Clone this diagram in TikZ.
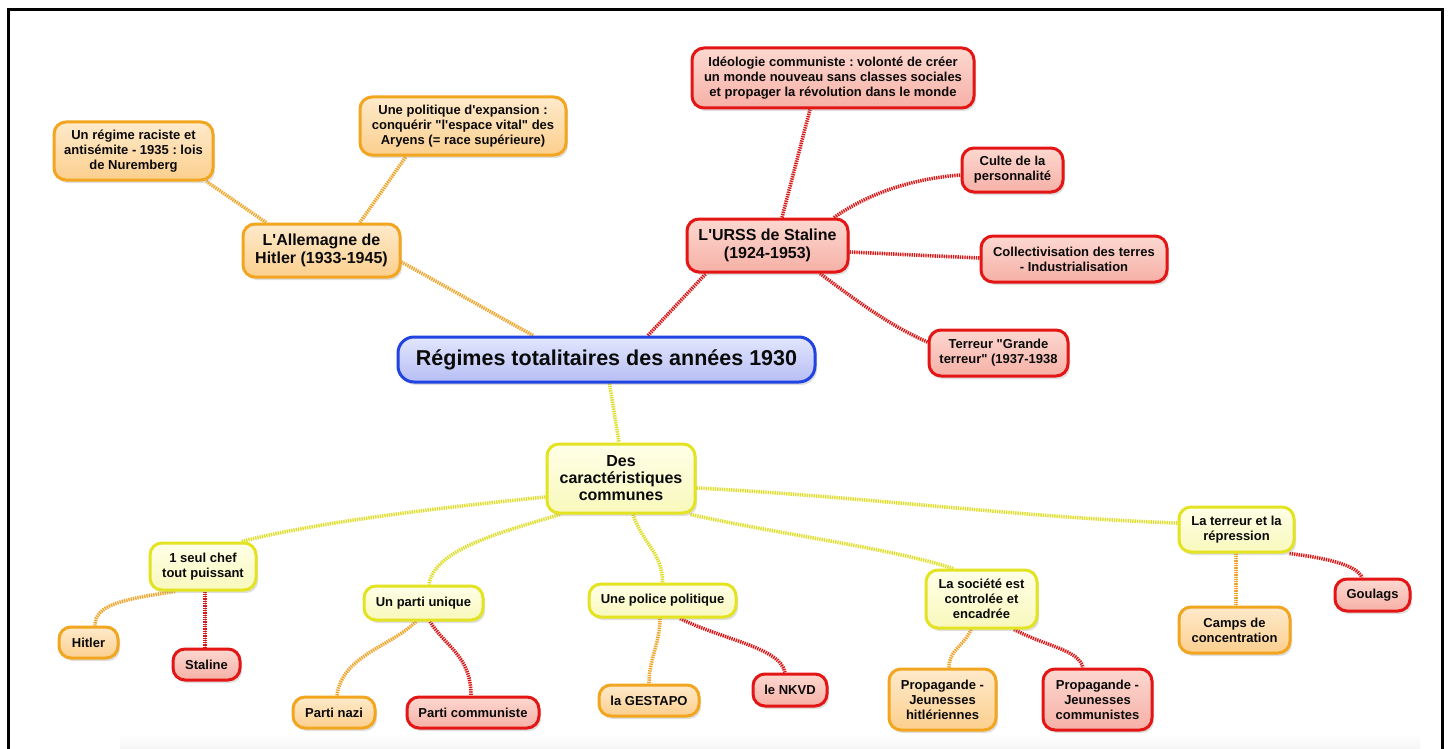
\documentclass[tikz,border=0pt]{standalone}
\usepackage{fontspec}
\setmainfont{Liberation Sans}[Ligatures=TeXOff]
\frenchspacing
\usetikzlibrary{shadows,backgrounds}
\definecolor{txt}{HTML}{0A0A0A}
\definecolor{oB}{HTML}{F2A51E}
\definecolor{oT}{HTML}{FEEACB}
\definecolor{oF}{HTML}{FCCF8E}
\definecolor{rB}{HTML}{E31515}
\definecolor{rT}{HTML}{FCD8D0}
\definecolor{rF}{HTML}{F6B0A6}
\definecolor{yB}{HTML}{E3E322}
\definecolor{yT}{HTML}{FFFFE8}
\definecolor{yF}{HTML}{F8F8BC}
\definecolor{bB}{HTML}{2143E0}
\definecolor{bT}{HTML}{E2E6FD}
\definecolor{bF}{HTML}{B6BEF4}
\definecolor{oD}{HTML}{EFA52A}
\definecolor{oL}{HTML}{F8D590}
\definecolor{rD}{HTML}{D81818}
\definecolor{rL}{HTML}{F09090}
\definecolor{yD}{HTML}{DEDE2A}
\definecolor{yL}{HTML}{F4F4A6}
\begin{document}
\begin{tikzpicture}[x=1pt,y=-1pt,
  mmbox/.style={rounded corners=12pt, line width=3pt, align=center, inner sep=1pt,
    text=txt, font=\bfseries\fontsize{13}{15}\selectfont,
    drop shadow={opacity=0.25, shadow xshift=2pt, shadow yshift=-3pt}},
  onode/.style={mmbox, draw=oB, top color=oT, bottom color=oF},
  rnode/.style={mmbox, draw=rB, top color=rT, bottom color=rF},
  ynode/.style={mmbox, draw=yB, top color=yT, bottom color=yF},
  bnode/.style={mmbox, draw=bB, top color=bT, bottom color=bF, rounded corners=16pt},
  sz/.style 2 args={minimum width=#1pt, minimum height=#2pt},
  midfont/.style={font=\bfseries\fontsize{16}{18}\selectfont},
  bigfont/.style={font=\bfseries\fontsize{21.5}{24}\selectfont},
  olink/.style={line width=3.6pt, draw=oD, dash pattern=on 1.3pt off 1pt, preaction={draw=oL, solid}},
  rlink/.style={line width=3.6pt, draw=rD, dash pattern=on 1.3pt off 1pt, preaction={draw=rL, solid}},
  ylink/.style={line width=3.6pt, draw=yD, dash pattern=on 1.3pt off 1pt, preaction={draw=yL, solid}},
  frame/.style={line width=3pt, draw=black}
]
\useasboundingbox (0,0) rectangle (1450,749);

% central
\node[bnode, sz={417}{45}, bigfont] (central) at (606.5,359.5) {Régimes totalitaires des années 1930};

% Germany branch
\node[onode, sz={157}{53}, midfont] (hitler) at (321.5,250.5) {L'Allemagne de\\Hitler (1933-1945)};
\node[onode, sz={159}{58}] (racist) at (133.5,151) {Un régime raciste et\\antisémite - 1935 : lois\\de Nuremberg};
\node[onode, sz={206}{58}] (expan) at (463,126) {Une politique d'expansion :\\conquérir "l'espace vital" des\\Aryens (= race supérieure)};

% USSR branch
\node[rnode, sz={161}{53}, midfont] (urss) at (767.5,245.5) {L'URSS de Staline\\(1924-1953)};
\node[rnode, sz={282}{60}] (ideo) at (833,78) {Idéologie communiste : volonté de créer\\un monde nouveau sans classes sociales\\et propager la révolution dans le monde};
\node[rnode, sz={101}{44}] (culte) at (1012.5,170) {Culte de la\\personnalité};
\node[rnode, sz={186}{46}] (collec) at (1074,259) {Collectivisation des terres\\- Industrialisation};
\node[rnode, sz={139}{46}] (terreur) at (998.5,353) {Terreur "Grande\\terreur" (1937-1938};

% common characteristics
\node[ynode, sz={148}{69}, font=\bfseries\fontsize{16}{17}\selectfont] (des) at (621,478.5) {Des\\caractéristiques\\communes};
\node[ynode, sz={106}{47}] (chef) at (203,566.5) {1 seul chef\\tout puissant};
\node[onode, sz={59}{31}] (hitler2) at (88.5,642.5) {Hitler};
\node[rnode, sz={67}{31}] (staline) at (206.5,664.5) {Staline};
\node[ynode, sz={119}{34}] (parti) at (423.5,603) {Un parti unique};
\node[onode, sz={82}{31}] (nazi) at (334,712.5) {Parti nazi};
\node[rnode, sz={132}{31}] (comm) at (473,712.5) {Parti communiste};
\node[ynode, sz={147}{33}] (police) at (662.5,600.5) {Une police politique};
\node[onode, sz={100}{31}] (gestapo) at (649,700.5) {la GESTAPO};
\node[rnode, sz={74}{32}] (nkvd) at (790,690) {le NKVD};
\node[ynode, sz={111}{58}] (societe) at (981.5,599) {La société est\\controlée et\\encadrée};
\node[onode, sz={107}{61}] (prophit) at (942.5,699.5) {Propagande -\\Jeunesses\\hitlériennes};
\node[rnode, sz={109}{61}] (propcom) at (1097.5,699.5) {Propagande -\\Jeunesses\\communistes};
\node[ynode, sz={115}{45}] (terrep) at (1236.5,529.5) {La terreur et la\\répression};
\node[onode, sz={111}{46}] (camps) at (1234.5,630) {Camps de\\concentration};
\node[rnode, sz={75}{32}] (goulags) at (1372.5,595) {Goulags};

\begin{scope}[on background layer]
\fill[white] (0,0) rectangle (1450,749);
\shade[top color=white, bottom color=black!4] (120,734) rectangle (1420,749);
\draw[frame] (8.5,749) -- (8.5,9.5) -- (1442.5,9.5) -- (1442.5,749);
% Germany
\draw[olink] ([xshift=-73.5pt]central.north) -- ([yshift=-11.5pt]hitler.east);
\draw[olink] ([xshift=-55.5pt]hitler.north) -- ([xshift=-8pt]racist.south east);
\draw[olink] ([xshift=38.5pt]hitler.north) -- ([xshift=-57pt]expan.south);
% USSR
\draw[rlink] ([xshift=41.5pt]central.north) -- ([xshift=-61.5pt]urss.south);
\draw[rlink] ([xshift=14.5pt]urss.north) -- ([xshift=-23pt]ideo.south);
\draw[rlink] ([xshift=66.5pt]urss.north) .. controls +(40,-28) and +(-40,3) .. ([yshift=-5pt]culte.west);
\draw[rlink] ([yshift=-6.5pt]urss.east) -- ([yshift=1pt]collec.west);
\draw[rlink] ([xshift=52.5pt]urss.south) .. controls +(40,30) and +(-35,-15) .. ([yshift=11pt]terreur.west);
% common
\draw[ylink] ([xshift=3pt]central.south) -- ([xshift=-2pt]des.north);
\draw[ylink] ([yshift=-18.5pt]des.west) .. controls +(-120,12) and +(70,-18) .. ([xshift=-16pt]chef.north east);
\draw[ylink] ([xshift=-61pt]des.south) .. controls +(-60,18) and +(5,-35) .. ([xshift=5.5pt]parti.north);
\draw[ylink] ([xshift=12pt]des.south) .. controls +(10,30) and +(0,-30) .. (police.north);
\draw[ylink] ([xshift=-6pt]des.south east) .. controls +(90,20) and +(-60,-20) .. ([xshift=-28.5pt]societe.north);
\draw[ylink] ([yshift=-9.5pt]des.east) .. controls +(160,8) and +(-150,-5) .. ([yshift=6.5pt]terrep.west);
% sub-branches
\draw[olink] ([xshift=-28pt]chef.south) .. controls +(-55,8) and +(0,-20) .. ([xshift=6.5pt]hitler2.north);
\draw[rlink] ([xshift=2pt]chef.south) -- ([xshift=-1.5pt]staline.north);
\draw[olink] ([xshift=-7.5pt]parti.south) .. controls +(-25,25) and +(5,-40) .. ([xshift=3pt]nazi.north);
\draw[rlink] ([xshift=6.5pt]parti.south) .. controls +(15,25) and +(0,-40) .. ([xshift=-2pt]comm.north);
\draw[olink] ([xshift=-2.5pt]police.south) .. controls +(0,25) and +(0,-25) .. (gestapo.north);
\draw[rlink] ([xshift=17.5pt]police.south) .. controls +(45,22) and +(-5,-25) .. ([xshift=-5pt]nkvd.north);
\draw[olink] ([xshift=-10.5pt]societe.south) .. controls +(-8,18) and +(0,-18) .. ([xshift=6.5pt]prophit.north);
\draw[rlink] ([xshift=32.5pt]societe.south) .. controls +(35,18) and +(-5,-18) .. ([xshift=-14.5pt]propcom.north);
\draw[olink] ([xshift=-0.5pt]terrep.south) -- ([xshift=1.5pt]camps.north);
\draw[rlink] ([xshift=-6pt]terrep.south east) .. controls +(40,5) and +(-5,-12) .. ([xshift=-10.5pt]goulags.north);
\end{scope}
\end{tikzpicture}
\end{document}
